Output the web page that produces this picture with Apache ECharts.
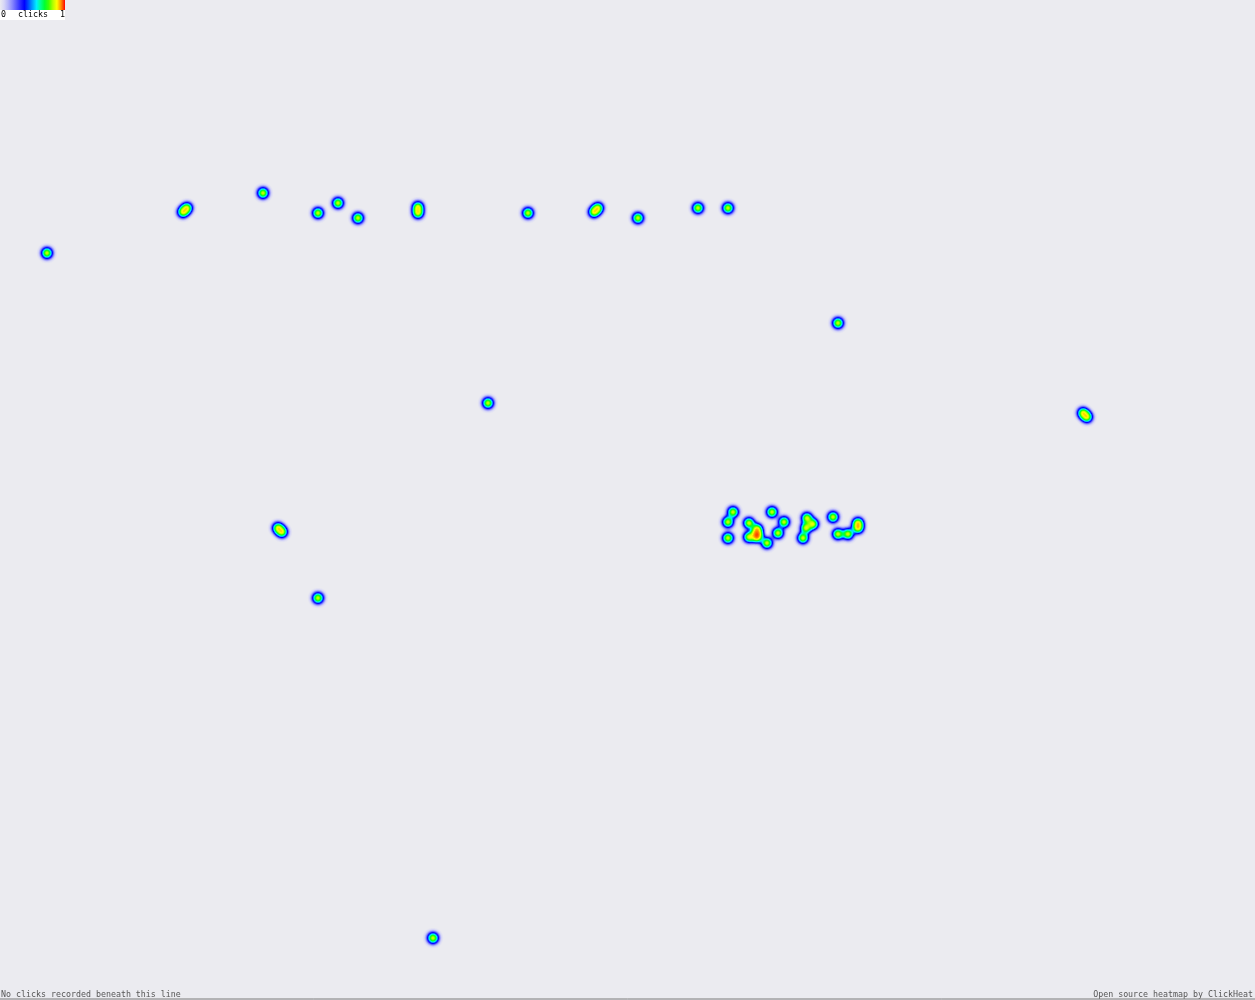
<!DOCTYPE html>
<html>
<head>
<meta charset="utf-8">
<script src="https://cdn.jsdelivr.net/npm/echarts@6/dist/echarts.min.js"></script>
<style>
  html, body { margin: 0; padding: 0; background: #ebebf0; }
  #chart { width: 1255px; height: 1000px; }
</style>
</head>
<body>
<div id="chart"></div>
<script>
// Page size (pixel space of the recorded page)
const pageWidth = 1255;
const pageHeight = 1000;

// Click positions [x, y], grouped by area
const topRowClicks = [
  [47, 253],
  [183, 212], [187, 208],
  [263, 193],
  [318, 213],
  [338, 203],
  [358, 218],
  [418, 207], [418, 213],
  [528, 213],
  [594, 212], [598, 208],
  [638, 218],
  [698, 208],
  [728, 208]
];
const middleClicks = [
  [838, 323],
  [488, 403],
  [1083, 413], [1087, 417],
  [278, 528], [282, 532],
  [318, 598],
  [433, 938]
];
const clusterClicks = [
  [733, 512], [728, 522], [728, 538],
  [749, 523], [757, 529], [757, 534], [757, 537], [749, 537], [767, 543],
  [772, 512], [784, 522], [778, 533],
  [807, 518], [813, 524], [806, 528], [803, 538],
  [833, 517], [838, 534], [848, 534], [858, 523], [858, 528]
];
const clickWeight = 1;

// Colour scale labels and palette
const scaleLabels = ['0', 'clicks', '1'];
const paletteColors = ['#ebebf0', '#d6d6f6', '#b4b4fa', '#8a8afd', '#5a5aff', '#2a2aff',
  '#0000ff', '#0050ff', '#00a0ff', '#00f0ff', '#00ff90', '#00ff30', '#40ff00',
  '#b0ff00', '#ffff00', '#ff9000', '#ff0000'];
const footerLeft = 'No clicks recorded beneath this line';
const footerRight = 'Open source heatmap by ClickHeat';

const allClicks = topRowClicks.concat(middleClicks, clusterClicks)
  .map(p => [p[0], p[1], clickWeight]);

const svg = '<svg xmlns="http://www.w3.org/2000/svg" width="' + pageWidth + '" height="' + pageHeight +
  '" viewBox="0 0 ' + pageWidth + ' ' + pageHeight + '"><rect x="0" y="0" width="' + pageWidth +
  '" height="' + pageHeight + '" fill="none"/></svg>';
echarts.registerMap('page', { svg: svg });

const chart = echarts.init(document.getElementById('chart'), null, { renderer: 'canvas' });
const legendStops = paletteColors.map((c, i) => ({ offset: i / (paletteColors.length - 1), color: c }));
const monoFont = '"DejaVu Sans Mono", monospace';

chart.setOption({
  backgroundColor: '#ebebf0',
  animation: false,
  geo: {
    map: 'page',
    left: 0, top: 0, width: pageWidth, height: pageHeight,
    roam: false,
    silent: true,
    itemStyle: { color: 'transparent', borderWidth: 0 }
  },
  visualMap: {
    show: false,
    type: 'continuous',
    min: 0,
    max: 1.1,
    calculable: false,
    inRange: { color: paletteColors }
  },
  series: [{
    type: 'heatmap',
    coordinateSystem: 'geo',
    data: allClicks,
    pointSize: 5.5,
    blurSize: 5.5,
    minOpacity: 1,
    maxOpacity: 1
  }],
  graphic: [
    {
      type: 'rect', left: 0, top: 0, silent: true,
      shape: { x: 0, y: 0, width: 65, height: 10 },
      style: { fill: new echarts.graphic.LinearGradient(0, 0, 1, 0, legendStops) }
    },
    {
      type: 'rect', left: 0, top: 10, silent: true,
      shape: { x: 0, y: 0, width: 65, height: 10 },
      style: { fill: '#ffffff' }
    },
    { type: 'text', x: 1, y: 15, silent: true,
      style: { text: scaleLabels[0], font: '8.3px ' + monoFont, fill: '#000', textVerticalAlign: 'middle' } },
    { type: 'text', x: 33, y: 15, silent: true,
      style: { text: scaleLabels[1], font: '8.3px ' + monoFont, fill: '#000', textAlign: 'center', textVerticalAlign: 'middle' } },
    { type: 'text', x: 65, y: 15, silent: true,
      style: { text: scaleLabels[2], font: '8.3px ' + monoFont, fill: '#000', textAlign: 'right', textVerticalAlign: 'middle' } },
    { type: 'text', x: 1, y: 995, silent: true,
      style: { text: footerLeft, font: '8.3px ' + monoFont, fill: '#555', textVerticalAlign: 'middle' } },
    { type: 'text', x: 1253, y: 995, silent: true,
      style: { text: footerRight, font: '8.3px ' + monoFont, fill: '#555', textAlign: 'right', textVerticalAlign: 'middle' } },
    { type: 'line', silent: true,
      shape: { x1: 0, y1: 999, x2: pageWidth, y2: 999 },
      style: { stroke: '#7a7a7a', lineWidth: 1 } }
  ]
});
</script>
</body>
</html>
